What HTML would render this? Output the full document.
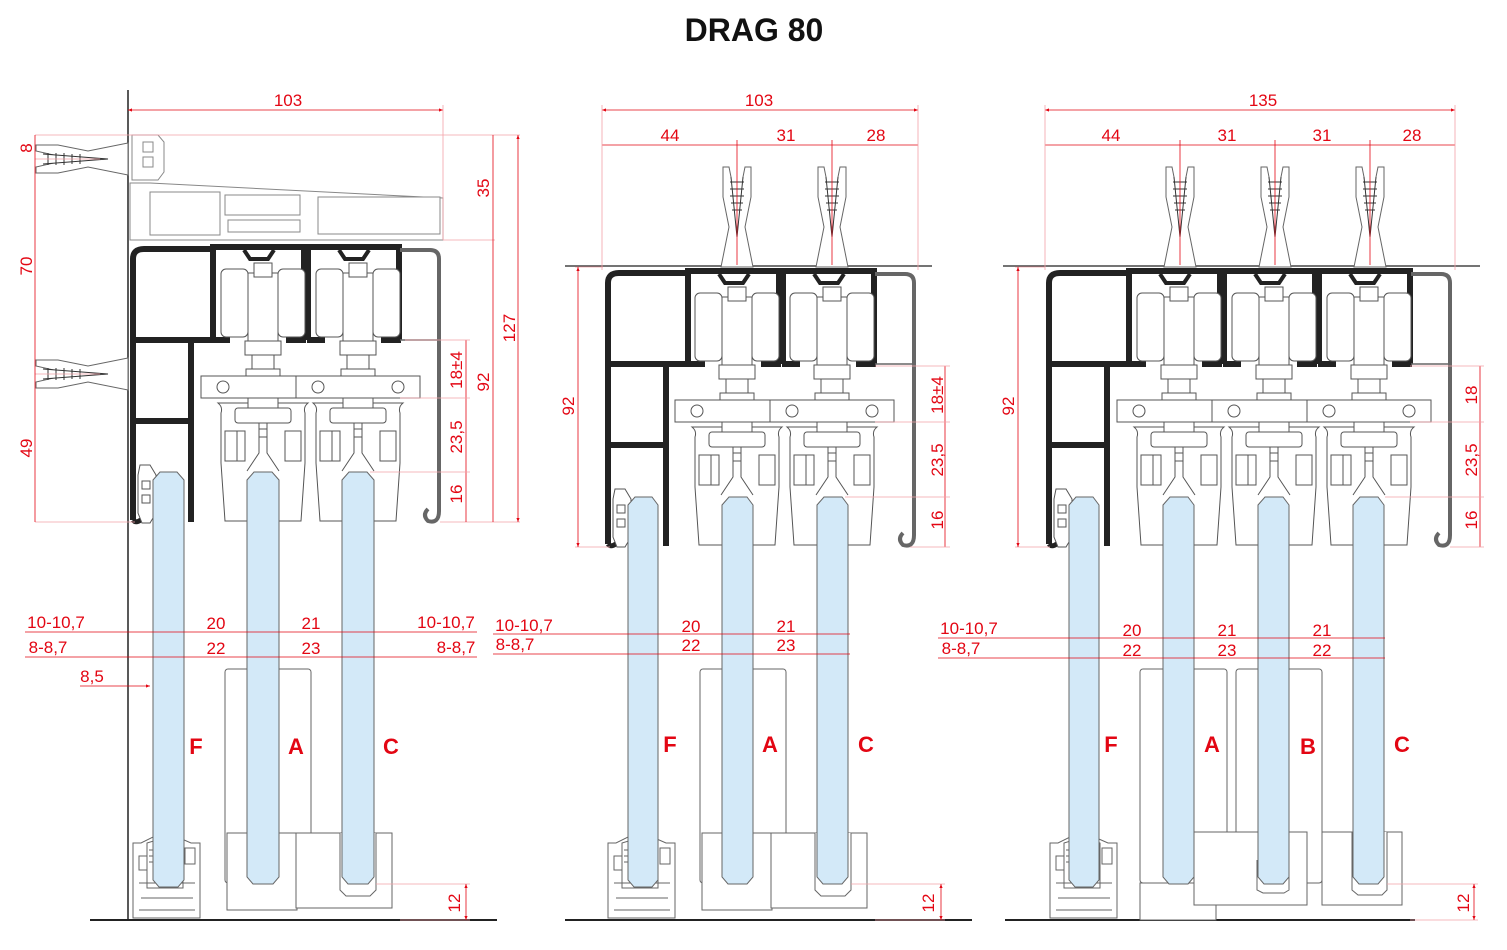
<!DOCTYPE html>
<html><head><meta charset="utf-8"><style>
html,body{margin:0;padding:0;background:#fff}
svg{display:block}
text{font-family:"Liberation Sans",Arial,sans-serif}
.r{fill:#e30613;font-size:17px}
.L{fill:#e30613;font-size:22px;font-weight:bold}
</style></head><body>
<svg width="1507" height="950" viewBox="0 0 1507 950" xmlns="http://www.w3.org/2000/svg">
<defs>
<marker id="ar" viewBox="0 0 10 10" refX="10" refY="5" markerWidth="5" markerHeight="5" orient="auto-start-reverse"><path d="M0,1 L10,5 L0,9z" fill="#e30613"/></marker>
<!-- trolley, origin at (center, rail top) -->
<g id="tr" fill="#fff" stroke="#555" stroke-width="1">
 <rect x="-42" y="26" width="27" height="68" rx="5"/>
 <rect x="15" y="26" width="27" height="68" rx="5"/>
 <rect x="-15" y="30" width="30" height="82"/>
 <rect x="-9" y="20" width="18" height="14"/>
 <rect x="-18" y="98" width="36" height="14"/>
 <rect x="-11" y="112" width="22" height="18"/>
 <rect x="-17" y="126" width="34" height="7"/>
 <rect x="-62" y="133" width="124" height="22"/>
 <circle cx="-40" cy="144" r="6"/><circle cx="40" cy="144" r="6"/>
 <path d="M-45,160 Q-40,164 -42,170 V220 L-38,278 H38 L42,220 V170 Q40,164 45,160 Z"/>
 <rect x="-15" y="155" width="30" height="10"/>
 <rect x="-28" y="165" width="56" height="15" rx="3"/>
 <rect x="-38" y="188" width="12" height="30"/><rect x="-26" y="188" width="8" height="30"/>
 <rect x="22" y="188" width="16" height="30"/>
 <path d="M-4,180 V210 L-16,228 M4,180 V210 L16,228"/>
 <rect x="-4" y="186" width="8" height="8"/>
</g>
<!-- ceiling channel -->
<g id="ch" fill="none" stroke="#222">
 <path d="M0,4 H97" stroke-width="6"/>
 <path d="M3,4 V97 M94,4 V97" stroke-width="6"/>
 <path d="M2,97 H20 M76,97 H96" stroke-width="6"/>
 <path d="M34,7 L40,16 H58 L64,7" stroke-width="4"/>
</g>
<g id="railL" fill="none" stroke="#222" stroke-width="6">
 <path d="M5,277 V16 Q5,6 16,6 H84"/>
 <path d="M5,97 H84"/>
 <path d="M63,97 V279 M5,178 H63"/>
 <path d="M5,277 Q8,281 14,276" stroke-width="5"/>
 <path d="M12,222 H22 L28,232 V270 L22,280 H14 L10,270 V232Z" stroke="#555" stroke-width="1" fill="#fff"/>
 <rect x="14" y="238" width="8" height="8" stroke="#555" stroke-width="1" fill="#fff"/>
 <rect x="14" y="252" width="8" height="8" stroke="#555" stroke-width="1" fill="#fff"/>
</g>
<g id="cov" fill="none">
 <path d="M0,7 H30 Q39,7 39,16 V268 Q39,281 28,278 Q22,272 28,266" stroke="#666" stroke-width="4"/>
 <path d="M0,97 H38" stroke="#666" stroke-width="1.5"/>
</g>
<!-- vertical anchor, origin at bottom center -->
<g id="anc" fill="#fff" stroke="#666" stroke-width="1">
 <path d="M-16,0 L-8,-40 L-14,-70 L-14,-100 H-8 L-3,-75 H3 L8,-100 H14 L14,-70 L8,-40 L16,0Z"/>
 <path d="M-6,-90 L0,-30 L6,-90" stroke="#333"/>
 <path d="M-7,-85 H7 M-7,-78 H7 M-7,-71 H7 M-6,-64 H6 M-5,-57 H5" stroke="#333"/>
</g>
<!-- horizontal anchor (panel 1) origin at right center -->
<g id="hanc" fill="#fff" stroke="#666" stroke-width="1">
 <path d="M0,-16 L-40,-8 L-70,-14 L-92,-14 V-8 L-70,-3 V3 L-92,8 V14 L-70,14 L-40,8 L0,16Z"/>
 <path d="M-85,-5 L-20,0 L-85,5" stroke="#333"/>
 <path d="M-80,-6 V6 M-72,-6 V6 M-64,-6 V6 M-56,-5 V5 M-48,-5 V5" stroke="#333"/>
</g>
<!-- floor profile for F, origin left,floor -->
<g id="flr" fill="#fff" stroke="#666" stroke-width="1">
 <path d="M0,0 V-75 H8 L22,-82 L24,-78 L14,-75 V-30 H50 V-75 L40,-80 L42,-82 L58,-75 H67 V0Z"/>
 <path d="M6,-8 H62 M8,-20 H60 M6,-35 H62"/>
 <rect x="6" y="-62" width="8" height="14"/><rect x="52" y="-70" width="10" height="16"/>
 <path d="M16,-68 h6 M16,-62 h6 M16,-56 h6 M44,-68 h6 M44,-62 h6 M44,-56 h6"/>
</g>
</defs>

<text x="754" y="41" text-anchor="middle" style="font-size:32px;font-weight:bold;fill:#111">DRAG 80</text>

<!-- ================= PANEL 1 ================= -->
<line x1="128" y1="90" x2="128" y2="920" stroke="#222" stroke-width="1.5"/>
<line x1="90" y1="920" x2="497" y2="920" stroke="#222" stroke-width="2"/>
<!-- top bracket -->
<g fill="#fff" stroke="#888" stroke-width="1">
 <path d="M130,183 H150 L443,198 V240 H130Z"/>
 <path d="M225,195 H300 V215 H225Z M318,197 H440 V234 H318Z M228,220 H300 V232 H228Z M150,192 H220 V235 H150Z"/>
 <path d="M132,135 H158 L164,142 V172 L158,180 H132Z"/>
 <rect x="143" y="142" width="10" height="10"/><rect x="143" y="157" width="10" height="10"/>
</g>
<use href="#hanc" x="128" y="159"/>
<use href="#hanc" x="128" y="374"/>
<g transform="translate(128,243)">
 <use href="#railL"/><use href="#ch" x="82"/><use href="#ch" x="177"/><use href="#cov" x="272"/>
 <use href="#tr" x="135"/><use href="#tr" x="230"/>
</g>
<!-- bottom guides -->
<g fill="#fff" stroke="#666" stroke-width="1">
 <rect x="225" y="669" width="86" height="214" rx="3"/>
 <rect x="227" y="833" width="70" height="77"/>
 <path d="M296,833 H392 V908 H296Z"/>
 <path d="M340,833 V890 L346,896 H370 L376,890 V833"/>
</g>
<use href="#flr" x="133" y="918"/>
<!-- glass -->
<g fill="#d3e9f8" stroke="#666" stroke-width="1">
 <path d="M153,480 L160,472 H177 L184,480 V880 L178,887 H159 L153,880Z"/>
 <path d="M247,480 L254,472 H272 L279,480 V877 L273,884 H253 L247,877Z"/>
 <path d="M342,480 L349,472 H367 L374,480 V877 L368,884 H348 L342,877Z"/>
</g>
<text class="L" x="196" y="754" text-anchor="middle">F</text>
<text class="L" x="296" y="754" text-anchor="middle">A</text>
<text class="L" x="391" y="754" text-anchor="middle">C</text>
<!-- dims panel 1 -->
<g stroke="#e30613" stroke-width="0.8" fill="none">
 <line x1="128" y1="110" x2="443" y2="110" marker-start="url(#ar)" marker-end="url(#ar)"/>
 <line x1="443" y1="105" x2="443" y2="240" stroke="#f3a0a8"/>
 <line x1="35" y1="135" x2="520" y2="135" stroke="#f3a0a8"/>
 <line x1="35" y1="522" x2="135" y2="522" stroke="#f3a0a8"/>
 <line x1="440" y1="522" x2="520" y2="522" stroke="#f3a0a8"/>
 <line x1="443" y1="240" x2="495" y2="240" stroke="#f3a0a8"/>
 <line x1="35" y1="159" x2="100" y2="159" stroke="#f3a0a8"/>
 <line x1="35" y1="374" x2="100" y2="374" stroke="#f3a0a8"/>
 <line x1="35" y1="135" x2="35" y2="522"/>
 <line x1="493" y1="135" x2="493" y2="522"/>
 <line x1="518" y1="135" x2="518" y2="522" marker-start="url(#ar)" marker-end="url(#ar)"/>
 <line x1="466" y1="340" x2="466" y2="522"/>
 <line x1="405" y1="340" x2="470" y2="340" stroke="#f3a0a8"/>
 <line x1="400" y1="398" x2="470" y2="398" stroke="#f3a0a8"/>
 <line x1="370" y1="472" x2="470" y2="472" stroke="#f3a0a8"/>
 <line x1="25" y1="632" x2="477" y2="632"/>
 <line x1="25" y1="657" x2="477" y2="657"/>
 <line x1="80" y1="686" x2="150" y2="686" marker-end="url(#ar)"/>
 <line x1="376" y1="884" x2="470" y2="884" stroke="#f3a0a8"/>
 <line x1="400" y1="920" x2="470" y2="920" stroke="#f3a0a8"/>
 <line x1="466" y1="884" x2="466" y2="920" marker-start="url(#ar)" marker-end="url(#ar)"/>
</g>
<text class="r" x="288" y="106" text-anchor="middle">103</text>
<text class="r" transform="translate(32,148) rotate(-90)" text-anchor="middle">8</text>
<text class="r" transform="translate(32,266) rotate(-90)" text-anchor="middle">70</text>
<text class="r" transform="translate(32,448) rotate(-90)" text-anchor="middle">49</text>
<text class="r" transform="translate(489,188) rotate(-90)" text-anchor="middle">35</text>
<text class="r" transform="translate(515,328) rotate(-90)" text-anchor="middle">127</text>
<text class="r" transform="translate(489,382) rotate(-90)" text-anchor="middle">92</text>
<text class="r" transform="translate(462,370) rotate(-90)" text-anchor="middle">18±4</text>
<text class="r" transform="translate(462,437) rotate(-90)" text-anchor="middle">23,5</text>
<text class="r" transform="translate(462,494) rotate(-90)" text-anchor="middle">16</text>
<text class="r" transform="translate(460,903) rotate(-90)" text-anchor="middle">12</text>
<text class="r" x="56" y="628" text-anchor="middle">10-10,7</text>
<text class="r" x="48" y="653" text-anchor="middle">8-8,7</text>
<text class="r" x="446" y="628" text-anchor="middle">10-10,7</text>
<text class="r" x="456" y="653" text-anchor="middle">8-8,7</text>
<text class="r" x="216" y="629" text-anchor="middle">20</text>
<text class="r" x="311" y="629" text-anchor="middle">21</text>
<text class="r" x="216" y="654" text-anchor="middle">22</text>
<text class="r" x="311" y="654" text-anchor="middle">23</text>
<text class="r" x="92" y="682" text-anchor="middle">8,5</text>

<!-- ================= PANEL 2 ================= -->
<line x1="565" y1="266" x2="932" y2="266" stroke="#222" stroke-width="1.2"/>
<line x1="565" y1="920" x2="972" y2="920" stroke="#222" stroke-width="2"/>
<use href="#anc" x="737" y="267"/><use href="#anc" x="832" y="267"/>
<g transform="translate(603,267)">
 <use href="#railL"/><use href="#ch" x="82"/><use href="#ch" x="177"/><use href="#cov" x="272"/>
 <use href="#tr" x="134"/><use href="#tr" x="229"/>
</g>
<g fill="#fff" stroke="#666" stroke-width="1">
 <rect x="700" y="669" width="86" height="214" rx="3"/>
 <rect x="702" y="833" width="70" height="77"/>
 <path d="M771,833 H867 V908 H771Z"/>
 <path d="M815,833 V890 L821,896 H845 L851,890 V833"/>
</g>
<use href="#flr" x="608" y="918"/>
<g fill="#d3e9f8" stroke="#666" stroke-width="1">
 <path d="M628,505 L635,497 H652 L658,505 V880 L652,887 H634 L628,880Z"/>
 <path d="M722,505 L729,497 H747 L753,505 V877 L747,884 H728 L722,877Z"/>
 <path d="M817,505 L824,497 H842 L848,505 V877 L842,884 H823 L817,877Z"/>
</g>
<text class="L" x="670" y="752" text-anchor="middle">F</text>
<text class="L" x="770" y="752" text-anchor="middle">A</text>
<text class="L" x="866" y="752" text-anchor="middle">C</text>
<g stroke="#e30613" stroke-width="0.8" fill="none">
 <line x1="602" y1="110" x2="918" y2="110" marker-start="url(#ar)" marker-end="url(#ar)"/>
 <line x1="602" y1="145" x2="918" y2="145"/>
 <line x1="602" y1="105" x2="602" y2="270" stroke="#f3a0a8"/>
 <line x1="918" y1="105" x2="918" y2="270" stroke="#f3a0a8"/>
 <line x1="737" y1="140" x2="737" y2="265"/>
 <line x1="832" y1="140" x2="832" y2="265"/>
 <line x1="575" y1="267" x2="603" y2="267" stroke="#f3a0a8"/>
 <line x1="575" y1="547" x2="610" y2="547" stroke="#f3a0a8"/>
 <line x1="578" y1="267" x2="578" y2="547" marker-start="url(#ar)" marker-end="url(#ar)"/>
 <line x1="945" y1="366" x2="945" y2="547"/>
 <line x1="875" y1="366" x2="950" y2="366" stroke="#f3a0a8"/>
 <line x1="875" y1="422" x2="950" y2="422" stroke="#f3a0a8"/>
 <line x1="845" y1="497" x2="950" y2="497" stroke="#f3a0a8"/>
 <line x1="910" y1="547" x2="950" y2="547" stroke="#f3a0a8"/>
 <line x1="493" y1="634" x2="850" y2="634"/>
 <line x1="493" y1="654" x2="850" y2="654"/>
 <line x1="851" y1="884" x2="945" y2="884" stroke="#f3a0a8"/>
 <line x1="875" y1="920" x2="945" y2="920" stroke="#f3a0a8"/>
 <line x1="941" y1="884" x2="941" y2="920" marker-start="url(#ar)" marker-end="url(#ar)"/>
</g>
<text class="r" x="759" y="106" text-anchor="middle">103</text>
<text class="r" x="670" y="141" text-anchor="middle">44</text>
<text class="r" x="786" y="141" text-anchor="middle">31</text>
<text class="r" x="876" y="141" text-anchor="middle">28</text>
<text class="r" transform="translate(574,406) rotate(-90)" text-anchor="middle">92</text>
<text class="r" transform="translate(943,395) rotate(-90)" text-anchor="middle">18±4</text>
<text class="r" transform="translate(943,460) rotate(-90)" text-anchor="middle">23,5</text>
<text class="r" transform="translate(943,520) rotate(-90)" text-anchor="middle">16</text>
<text class="r" transform="translate(934,903) rotate(-90)" text-anchor="middle">12</text>
<text class="r" x="524" y="631" text-anchor="middle">10-10,7</text>
<text class="r" x="515" y="650" text-anchor="middle">8-8,7</text>
<text class="r" x="691" y="632" text-anchor="middle">20</text>
<text class="r" x="786" y="632" text-anchor="middle">21</text>
<text class="r" x="691" y="651" text-anchor="middle">22</text>
<text class="r" x="786" y="651" text-anchor="middle">23</text>

<!-- ================= PANEL 3 ================= -->
<line x1="1003" y1="266" x2="1480" y2="266" stroke="#222" stroke-width="1.2"/>
<line x1="1005" y1="920" x2="1415" y2="920" stroke="#222" stroke-width="2"/>
<use href="#anc" x="1180" y="267"/><use href="#anc" x="1275" y="267"/><use href="#anc" x="1370" y="267"/>
<g transform="translate(1044,267)">
 <use href="#railL"/><use href="#ch" x="82"/><use href="#ch" x="177"/><use href="#ch" x="272"/><use href="#cov" x="367"/>
 <use href="#tr" x="135"/><use href="#tr" x="230"/><use href="#tr" x="325"/>
</g>
<g fill="#fff" stroke="#666" stroke-width="1">
 <rect x="1140" y="669" width="87" height="214" rx="3"/>
 <rect x="1236" y="669" width="86" height="214" rx="3"/>
 <rect x="1140" y="883" width="76" height="37"/>
 <path d="M1194,832 H1307 V905 H1194Z"/>
 <path d="M1322,832 H1402 V905 H1322Z"/>
 <path d="M1257,860 V890 L1263,893 H1284 L1289,890 V860"/>
 <path d="M1352,832 V890 L1358,895 H1382 L1387,890 V832"/>
</g>
<use href="#flr" x="1050" y="918"/>
<g fill="#d3e9f8" stroke="#666" stroke-width="1">
 <path d="M1069,505 L1076,497 H1093 L1099,505 V880 L1093,887 H1075 L1069,880Z"/>
 <path d="M1163,505 L1170,497 H1188 L1194,505 V877 L1188,884 H1169 L1163,877Z"/>
 <path d="M1258,505 L1265,497 H1283 L1289,505 V877 L1283,884 H1264 L1258,877Z"/>
 <path d="M1353,505 L1360,497 H1378 L1384,505 V877 L1378,884 H1359 L1353,877Z"/>
</g>
<text class="L" x="1111" y="752" text-anchor="middle">F</text>
<text class="L" x="1212" y="752" text-anchor="middle">A</text>
<text class="L" x="1308" y="754" text-anchor="middle">B</text>
<text class="L" x="1402" y="752" text-anchor="middle">C</text>
<g stroke="#e30613" stroke-width="0.8" fill="none">
 <line x1="1045" y1="110" x2="1455" y2="110" marker-start="url(#ar)" marker-end="url(#ar)"/>
 <line x1="1045" y1="145" x2="1455" y2="145"/>
 <line x1="1045" y1="105" x2="1045" y2="270" stroke="#f3a0a8"/>
 <line x1="1455" y1="105" x2="1455" y2="270" stroke="#f3a0a8"/>
 <line x1="1180" y1="140" x2="1180" y2="265"/>
 <line x1="1275" y1="140" x2="1275" y2="265"/>
 <line x1="1370" y1="140" x2="1370" y2="265"/>
 <line x1="1015" y1="267" x2="1045" y2="267" stroke="#f3a0a8"/>
 <line x1="1015" y1="547" x2="1050" y2="547" stroke="#f3a0a8"/>
 <line x1="1018" y1="267" x2="1018" y2="547" marker-start="url(#ar)" marker-end="url(#ar)"/>
 <line x1="1480" y1="366" x2="1480" y2="547"/>
 <line x1="1410" y1="366" x2="1484" y2="366" stroke="#f3a0a8"/>
 <line x1="1410" y1="422" x2="1484" y2="422" stroke="#f3a0a8"/>
 <line x1="1385" y1="497" x2="1484" y2="497" stroke="#f3a0a8"/>
 <line x1="1450" y1="547" x2="1484" y2="547" stroke="#f3a0a8"/>
 <line x1="938" y1="638" x2="1385" y2="638"/>
 <line x1="938" y1="658" x2="1385" y2="658"/>
 <line x1="1387" y1="884" x2="1478" y2="884" stroke="#f3a0a8"/>
 <line x1="1410" y1="920" x2="1478" y2="920" stroke="#f3a0a8"/>
 <line x1="1474" y1="884" x2="1474" y2="920" marker-start="url(#ar)" marker-end="url(#ar)"/>
</g>
<text class="r" x="1263" y="106" text-anchor="middle">135</text>
<text class="r" x="1111" y="141" text-anchor="middle">44</text>
<text class="r" x="1227" y="141" text-anchor="middle">31</text>
<text class="r" x="1322" y="141" text-anchor="middle">31</text>
<text class="r" x="1412" y="141" text-anchor="middle">28</text>
<text class="r" transform="translate(1014,406) rotate(-90)" text-anchor="middle">92</text>
<text class="r" transform="translate(1477,395) rotate(-90)" text-anchor="middle">18</text>
<text class="r" transform="translate(1477,460) rotate(-90)" text-anchor="middle">23,5</text>
<text class="r" transform="translate(1477,520) rotate(-90)" text-anchor="middle">16</text>
<text class="r" transform="translate(1469,903) rotate(-90)" text-anchor="middle">12</text>
<text class="r" x="969" y="634" text-anchor="middle">10-10,7</text>
<text class="r" x="961" y="654" text-anchor="middle">8-8,7</text>
<text class="r" x="1132" y="636" text-anchor="middle">20</text>
<text class="r" x="1227" y="636" text-anchor="middle">21</text>
<text class="r" x="1322" y="636" text-anchor="middle">21</text>
<text class="r" x="1132" y="656" text-anchor="middle">22</text>
<text class="r" x="1227" y="656" text-anchor="middle">23</text>
<text class="r" x="1322" y="656" text-anchor="middle">22</text>
</svg>
</body></html>
